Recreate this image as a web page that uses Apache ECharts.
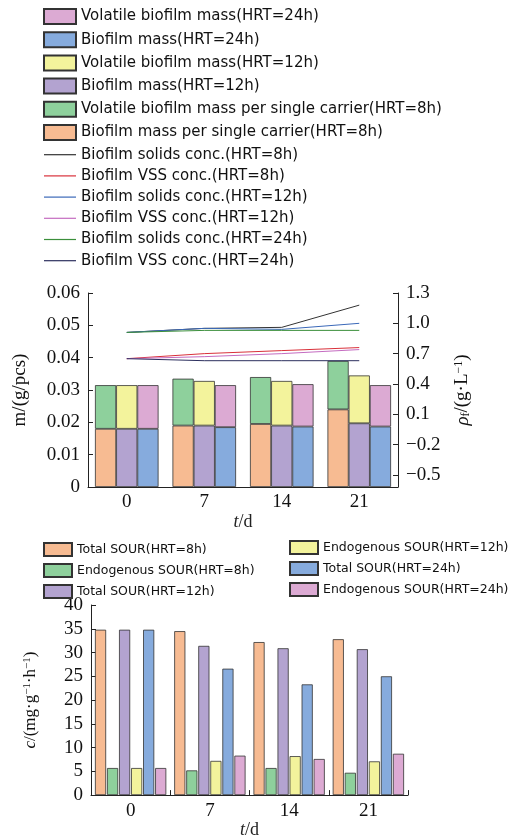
<!DOCTYPE html>
<html><head><meta charset="utf-8">
<script src="https://cdn.jsdelivr.net/npm/echarts@6/dist/echarts.min.js"></script>
<style>html,body{margin:0;padding:0;background:#fff}#c{width:520px;height:840px}</style>
</head><body><div id="c"></div>
<script>
const days = ['0', '7', '14', '21'];
// top chart, bars (g/pcs)
const mass8 = [0.018, 0.019, 0.0195, 0.024];
const vol8 = [0.0135, 0.0145, 0.0145, 0.015];   // stacked increments
const mass12 = [0.018, 0.019, 0.019, 0.0197];
const vol12 = [0.0135, 0.0138, 0.0138, 0.0148];
const mass24 = [0.018, 0.0185, 0.0187, 0.0187];
const vol24 = [0.0135, 0.013, 0.0131, 0.0128];
// top chart, lines (g/L)
const solids8 = [0.91, 0.95, 0.96, 1.18];
const vss8 = [0.65, 0.70, 0.73, 0.76];
const solids12 = [0.91, 0.95, 0.94, 1.00];
const vss12 = [0.65, 0.67, 0.70, 0.74];
const solids24 = [0.91, 0.93, 0.93, 0.93];
const vss24 = [0.65, 0.63, 0.63, 0.63];
const rhoTicks = [-0.5, -0.2, 0.1, 0.4, 0.7, 1.0, 1.3];
// bottom chart (mg/g/h)
const total8 = [34.8, 34.5, 32.2, 32.8];
const endo8 = [5.7, 5.2, 5.7, 4.7];
const total12 = [34.8, 31.4, 30.9, 30.7];
const endo12 = [5.7, 7.2, 8.2, 7.1];
const total24 = [34.8, 26.6, 23.3, 25.0];
const endo24 = [5.7, 8.3, 7.6, 8.7];

const C = {orange: '#f7bb92', green: '#8ed09c', purple: '#b3a3d0', yellow: '#f3f39c', blue: '#86abdd', pink: '#dcaad3'};
const serif = 'Liberation Serif';
const sans = 'DejaVu Sans';
const lineIcon = 'path://M0,0H40V1.5H0Z';

function bar(name, data, color, xi, stack) {
    return {type: 'bar', name, data, xAxisIndex: xi, yAxisIndex: xi === 0 ? 0 : 2, stack,
        itemStyle: {color, borderColor: '#333', borderWidth: 0.8},
        barGap: xi === 0 ? '0%' : '8%', barCategoryGap: xi === 0 ? '18%' : '10%'};
}
function line(name, data, color) {
    return {type: 'line', name, data, xAxisIndex: 0, yAxisIndex: 1, symbol: 'none',
        lineStyle: {color, width: 1}, itemStyle: {color}};
}
const axisLine = {show: true, lineStyle: {color: '#222', width: 1}};
const tickLabel = {fontFamily: serif, fontSize: 19, color: '#111'};

const topBars = ['Volatile biofilm mass(HRT=24h)', 'Biofilm mass(HRT=24h)', 'Volatile biofilm mass(HRT=12h)',
    'Biofilm mass(HRT=12h)', 'Volatile biofilm mass per single carrier(HRT=8h)', 'Biofilm mass per single carrier(HRT=8h)'];
const topLines = ['Biofilm solids conc.(HRT=8h)', 'Biofilm VSS conc.(HRT=8h)', 'Biofilm solids conc.(HRT=12h)',
    'Biofilm VSS conc.(HRT=12h)', 'Biofilm solids conc.(HRT=24h)', 'Biofilm VSS conc.(HRT=24h)'];
const rectItems = names => names.map(name => ({name, icon: 'rect'}));

const chart = echarts.init(document.getElementById('c'));
chart.setOption({
    animation: false,
    legend: [
        {data: rectItems(topBars).concat(topLines.map(name => ({name, icon: lineIcon}))),
            orient: 'vertical', left: 38, top: 3, itemWidth: 32, itemHeight: 15, itemGap: 6.2,
            textStyle: {fontFamily: sans, fontSize: 15, color: '#111'}},
        {data: rectItems(['Total SOUR(HRT=8h)', 'Endogenous SOUR(HRT=8h)', 'Total SOUR(HRT=12h)']), orient: 'vertical',
            left: 38, top: 537, itemWidth: 28, itemHeight: 13, itemGap: 6,
            textStyle: {fontFamily: sans, fontSize: 12.5, color: '#111'}},
        {data: rectItems(['Endogenous SOUR(HRT=12h)', 'Total SOUR(HRT=24h)', 'Endogenous SOUR(HRT=24h)']), orient: 'vertical',
            left: 284, top: 535, itemWidth: 28, itemHeight: 13, itemGap: 6,
            textStyle: {fontFamily: sans, fontSize: 12.5, color: '#111'}}
    ],
    grid: [
        {left: 88, right: 122, top: 293, height: 194},
        {left: 91, right: 112, top: 605, height: 192}
    ],
    xAxis: [
        {type: 'category', data: days, gridIndex: 0, axisLine, axisTick: {show: false},
            axisLabel: Object.assign({margin: 6}, tickLabel),
            name: '{i|t}/d', nameLocation: 'middle', nameGap: 22,
            nameTextStyle: {fontFamily: serif, fontSize: 18, rich: {i: {fontStyle: 'italic', fontFamily: serif, fontSize: 18}}}},
        {type: 'category', data: days, gridIndex: 1, axisLine, axisTick: {show: true, inside: true, lineStyle: {color: '#222'}},
            axisLabel: Object.assign({margin: 6}, tickLabel),
            name: '{i|t}/d', nameLocation: 'middle', nameGap: 22,
            nameTextStyle: {fontFamily: serif, fontSize: 18, rich: {i: {fontStyle: 'italic', fontFamily: serif, fontSize: 18}}}}
    ],
    yAxis: [
        {type: 'value', gridIndex: 0, min: 0, max: 0.06, interval: 0.01, axisLine,
            axisTick: {show: true, inside: true, lineStyle: {color: '#222'}}, splitLine: {show: false},
            axisLabel: Object.assign({formatter: v => v === 0 ? '0' : v.toFixed(2)}, tickLabel),
            name: 'm/(g/pcs)', nameLocation: 'middle', nameGap: 58, nameTextStyle: {fontFamily: serif, fontSize: 19, color: '#111'}},
        {type: 'value', gridIndex: 0, position: 'right', min: -0.62, max: 1.3, axisLine,
            axisTick: {show: true, inside: true, customValues: rhoTicks, lineStyle: {color: '#222'}}, splitLine: {show: false},
            axisLabel: Object.assign({customValues: rhoTicks, formatter: v => v < 0 ? '\u2212' + Math.abs(v).toFixed(1) : v.toFixed(1)}, tickLabel),
            name: '{i|ρ}{s|f}/(g·L{p|−1})', nameLocation: 'middle', nameGap: 55, nameRotate: 90,
            nameTextStyle: {fontFamily: serif, fontSize: 19, color: '#111',
                rich: {i: {fontStyle: 'italic', fontFamily: serif, fontSize: 19}, s: {fontSize: 12, verticalAlign: 'bottom', fontFamily: serif},
                    p: {fontSize: 12, verticalAlign: 'top', fontFamily: serif}}}},
        {type: 'value', gridIndex: 1, min: 0, max: 40, interval: 5, axisLine,
            axisTick: {show: true, inside: true, lineStyle: {color: '#222'}}, splitLine: {show: false},
            axisLabel: tickLabel,
            name: '{i|c}/(mg·g{p|−1}·h{p|−1})', nameLocation: 'middle', nameGap: 52,
            nameTextStyle: {fontFamily: serif, fontSize: 17, color: '#111',
                rich: {i: {fontStyle: 'italic', fontFamily: serif, fontSize: 17}, p: {fontSize: 11, verticalAlign: 'top', fontFamily: serif}}}}
    ],
    series: [
        bar('Biofilm mass per single carrier(HRT=8h)', mass8, C.orange, 0, 's8'),
        bar('Volatile biofilm mass per single carrier(HRT=8h)', vol8, C.green, 0, 's8'),
        bar('Biofilm mass(HRT=12h)', mass12, C.purple, 0, 's12'),
        bar('Volatile biofilm mass(HRT=12h)', vol12, C.yellow, 0, 's12'),
        bar('Biofilm mass(HRT=24h)', mass24, C.blue, 0, 's24'),
        bar('Volatile biofilm mass(HRT=24h)', vol24, C.pink, 0, 's24'),
        line('Biofilm solids conc.(HRT=8h)', solids8, '#333333'),
        line('Biofilm VSS conc.(HRT=8h)', vss8, '#d9303a'),
        line('Biofilm solids conc.(HRT=12h)', solids12, '#3a68b8'),
        line('Biofilm VSS conc.(HRT=12h)', vss12, '#c46bc0'),
        line('Biofilm solids conc.(HRT=24h)', solids24, '#3b8f3b'),
        line('Biofilm VSS conc.(HRT=24h)', vss24, '#2c2f5e'),
        bar('Total SOUR(HRT=8h)', total8, C.orange, 1),
        bar('Endogenous SOUR(HRT=8h)', endo8, C.green, 1),
        bar('Total SOUR(HRT=12h)', total12, C.purple, 1),
        bar('Endogenous SOUR(HRT=12h)', endo12, C.yellow, 1),
        bar('Total SOUR(HRT=24h)', total24, C.blue, 1),
        bar('Endogenous SOUR(HRT=24h)', endo24, C.pink, 1)
    ]
});
</script></body></html>
